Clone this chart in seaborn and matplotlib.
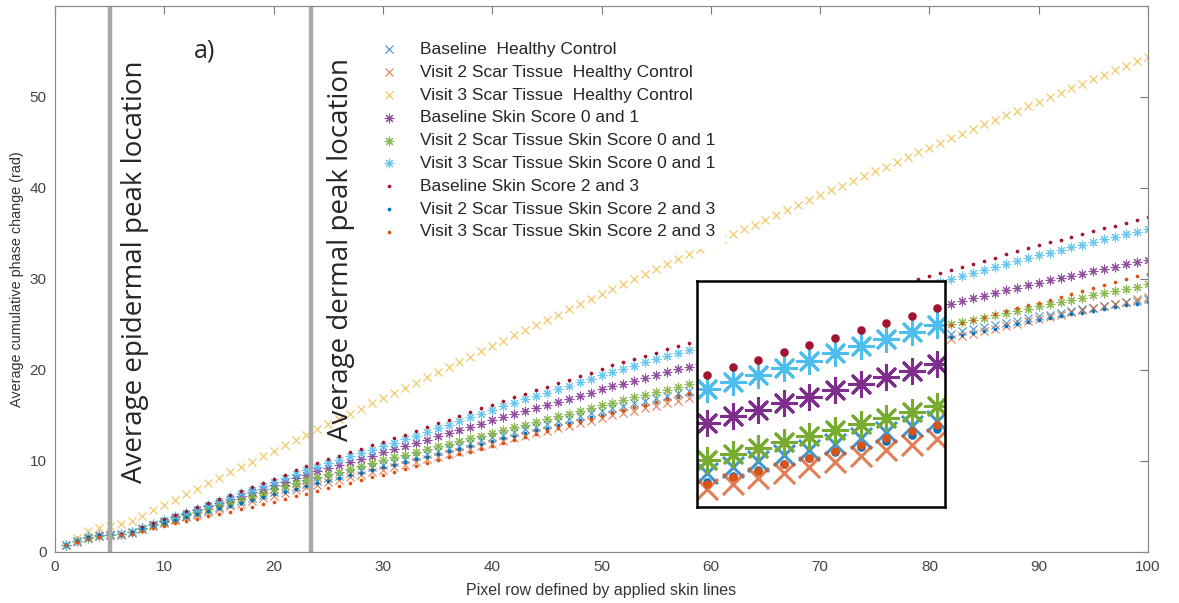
import matplotlib.pyplot as plt
import seaborn as sns

# pixel rows 1..100
pixel_row = list(range(1, 101))

baseline_hc = [
    0.80, 1.18, 1.57, 1.80, 1.90, 1.95, 2.15, 2.55, 2.95, 3.30,
    3.63, 3.97, 4.30, 4.63, 4.97, 5.30, 5.61, 5.93, 6.24, 6.56,
    6.87, 7.19, 7.50, 7.80, 8.10, 8.40, 8.70, 9.00, 9.30, 9.60,
    9.90, 10.20, 10.50, 10.80, 11.10, 11.40, 11.70, 12.00, 12.30, 12.60,
    12.90, 13.19, 13.48, 13.77, 14.06, 14.35, 14.64, 14.93, 15.22, 15.51,
    15.80, 16.08, 16.36, 16.63, 16.91, 17.19, 17.47, 17.74, 18.02, 18.30,
    18.57, 18.84, 19.11, 19.38, 19.65, 19.92, 20.19, 20.46, 20.73, 21.00,
    21.25, 21.50, 21.75, 22.00, 22.25, 22.50, 22.75, 23.00, 23.25, 23.50,
    23.75, 24.00, 24.24, 24.48, 24.71, 24.95, 25.19, 25.43, 25.66, 25.90,
    26.09, 26.28, 26.47, 26.66, 26.85, 27.04, 27.23, 27.42, 27.61, 27.80]

visit2_hc = [
    0.80, 1.15, 1.55, 1.78, 1.88, 1.92, 2.10, 2.48, 2.85, 3.20,
    3.50, 3.80, 4.10, 4.40, 4.70, 5.00, 5.30, 5.60, 5.90, 6.20,
    6.50, 6.80, 7.10, 7.38, 7.65, 7.93, 8.20, 8.48, 8.75, 9.03,
    9.30, 9.59, 9.88, 10.17, 10.46, 10.75, 11.04, 11.33, 11.62, 11.91,
    12.20, 12.48, 12.76, 13.04, 13.32, 13.60, 13.88, 14.16, 14.44, 14.72,
    15.00, 15.27, 15.53, 15.80, 16.07, 16.33, 16.60, 16.87, 17.13, 17.40,
    17.67, 17.94, 18.21, 18.48, 18.75, 19.02, 19.29, 19.56, 19.83, 20.10,
    20.38, 20.65, 20.93, 21.20, 21.48, 21.75, 22.03, 22.30, 22.58, 22.85,
    23.13, 23.40, 23.68, 23.95, 24.23, 24.50, 24.78, 25.05, 25.33, 25.60,
    25.84, 26.08, 26.32, 26.56, 26.80, 27.04, 27.28, 27.52, 27.76, 28.00]

visit3_hc = [
    0.80, 1.50, 2.30, 2.60, 2.85, 3.10, 3.40, 4.00, 4.60, 5.15,
    5.75, 6.35, 6.95, 7.55, 8.15, 8.75, 9.35, 9.94, 10.53, 11.13,
    11.72, 12.31, 12.90, 13.47, 14.04, 14.61, 15.18, 15.75, 16.33, 16.90,
    17.47, 18.04, 18.61, 19.18, 19.75, 20.33, 20.90, 21.48, 22.06, 22.63,
    23.21, 23.79, 24.36, 24.94, 25.52, 26.09, 26.67, 27.25, 27.82, 28.40,
    28.94, 29.48, 30.03, 30.57, 31.11, 31.65, 32.19, 32.73, 33.28, 33.82,
    34.36, 34.90, 35.44, 35.97, 36.51, 37.05, 37.58, 38.12, 38.65, 39.19,
    39.73, 40.26, 40.80, 41.32, 41.83, 42.35, 42.87, 43.38, 43.90, 44.42,
    44.93, 45.45, 45.97, 46.48, 47.00, 47.49, 47.99, 48.48, 48.97, 49.47,
    49.96, 50.45, 50.95, 51.44, 51.93, 52.43, 52.92, 53.41, 53.91, 54.40]

baseline_ss01 = [
    0.80, 1.20, 1.60, 1.82, 1.92, 1.98, 2.18, 2.60, 3.05, 3.40,
    3.80, 4.20, 4.60, 5.00, 5.40, 5.80, 6.19, 6.57, 6.96, 7.34,
    7.73, 8.11, 8.50, 8.85, 9.20, 9.55, 9.90, 10.25, 10.60, 10.95,
    11.30, 11.65, 12.00, 12.35, 12.70, 13.05, 13.40, 13.75, 14.10, 14.45,
    14.80, 15.14, 15.48, 15.82, 16.16, 16.50, 16.84, 17.18, 17.52, 17.86,
    18.20, 18.51, 18.82, 19.13, 19.44, 19.76, 20.07, 20.38, 20.69, 21.00,
    21.30, 21.60, 21.90, 22.20, 22.50, 22.80, 23.10, 23.40, 23.70, 24.00,
    24.28, 24.55, 24.83, 25.10, 25.38, 25.65, 25.93, 26.20, 26.48, 26.75,
    27.03, 27.30, 27.59, 27.88, 28.16, 28.45, 28.74, 29.03, 29.31, 29.60,
    29.85, 30.10, 30.35, 30.60, 30.85, 31.10, 31.35, 31.60, 31.85, 32.10]

visit2_ss01 = [
    0.80, 1.20, 1.58, 1.80, 1.90, 1.95, 2.15, 2.55, 2.95, 3.30,
    3.67, 4.03, 4.40, 4.77, 5.13, 5.50, 5.84, 6.19, 6.53, 6.87,
    7.21, 7.56, 7.90, 8.21, 8.53, 8.84, 9.15, 9.46, 9.78, 10.09,
    10.40, 10.70, 11.00, 11.30, 11.60, 11.90, 12.20, 12.50, 12.80, 13.10,
    13.40, 13.70, 14.00, 14.30, 14.60, 14.90, 15.20, 15.50, 15.80, 16.10,
    16.40, 16.69, 16.98, 17.27, 17.56, 17.84, 18.13, 18.42, 18.71, 19.00,
    19.28, 19.56, 19.84, 20.12, 20.40, 20.68, 20.96, 21.24, 21.52, 21.80,
    22.07, 22.33, 22.60, 22.87, 23.13, 23.40, 23.67, 23.93, 24.20, 24.47,
    24.73, 25.00, 25.25, 25.50, 25.75, 26.00, 26.25, 26.50, 26.75, 27.00,
    27.24, 27.48, 27.72, 27.96, 28.20, 28.44, 28.68, 28.92, 29.16, 29.40]

visit3_ss01 = [
    0.80, 1.20, 1.60, 1.85, 1.95, 2.00, 2.20, 2.65, 3.10, 3.50,
    3.92, 4.33, 4.75, 5.17, 5.58, 6.00, 6.43, 6.86, 7.29, 7.71,
    8.14, 8.57, 9.00, 9.38, 9.75, 10.13, 10.50, 10.88, 11.25, 11.63,
    12.00, 12.40, 12.80, 13.20, 13.60, 14.00, 14.40, 14.80, 15.20, 15.60,
    16.00, 16.38, 16.76, 17.14, 17.52, 17.90, 18.28, 18.66, 19.04, 19.42,
    19.80, 20.14, 20.49, 20.83, 21.18, 21.52, 21.87, 22.21, 22.56, 22.90,
    23.23, 23.56, 23.89, 24.22, 24.55, 24.88, 25.21, 25.54, 25.87, 26.20,
    26.52, 26.83, 27.15, 27.47, 27.78, 28.10, 28.42, 28.73, 29.05, 29.37,
    29.68, 30.00, 30.33, 30.65, 30.98, 31.30, 31.63, 31.95, 32.28, 32.60,
    32.89, 33.18, 33.47, 33.76, 34.05, 34.34, 34.63, 34.92, 35.21, 35.50]

baseline_ss23 = [
    0.80, 1.20, 1.60, 1.85, 1.95, 2.00, 2.25, 2.70, 3.15, 3.60,
    4.05, 4.50, 4.95, 5.40, 5.85, 6.30, 6.74, 7.19, 7.63, 8.07,
    8.51, 8.96, 9.40, 9.79, 10.18, 10.56, 10.95, 11.34, 11.73, 12.11,
    12.50, 12.91, 13.32, 13.73, 14.14, 14.55, 14.96, 15.37, 15.78, 16.19,
    16.60, 16.99, 17.38, 17.77, 18.16, 18.55, 18.94, 19.33, 19.72, 20.11,
    20.50, 20.86, 21.21, 21.57, 21.92, 22.28, 22.63, 22.99, 23.34, 23.70,
    24.04, 24.38, 24.72, 25.06, 25.40, 25.74, 26.08, 26.42, 26.76, 27.10,
    27.43, 27.75, 28.08, 28.40, 28.73, 29.05, 29.38, 29.70, 30.03, 30.35,
    30.68, 31.00, 31.34, 31.68, 32.01, 32.35, 32.69, 33.03, 33.36, 33.70,
    34.01, 34.32, 34.63, 34.94, 35.25, 35.56, 35.87, 36.18, 36.49, 36.80]

visit2_ss23 = [
    0.80, 1.18, 1.56, 1.78, 1.88, 1.92, 2.12, 2.50, 2.88, 3.20,
    3.52, 3.83, 4.15, 4.47, 4.78, 5.10, 5.41, 5.71, 6.02, 6.33,
    6.64, 6.94, 7.25, 7.54, 7.84, 8.13, 8.43, 8.72, 9.01, 9.31,
    9.60, 9.89, 10.18, 10.47, 10.76, 11.05, 11.34, 11.63, 11.92, 12.21,
    12.50, 12.79, 13.07, 13.36, 13.64, 13.93, 14.21, 14.50, 14.78, 15.07,
    15.35, 15.63, 15.92, 16.20, 16.48, 16.77, 17.05, 17.33, 17.62, 17.90,
    18.17, 18.44, 18.71, 18.98, 19.25, 19.52, 19.79, 20.06, 20.33, 20.60,
    20.85, 21.10, 21.35, 21.60, 21.85, 22.10, 22.35, 22.60, 22.85, 23.10,
    23.35, 23.60, 23.84, 24.08, 24.31, 24.55, 24.79, 25.03, 25.26, 25.50,
    25.70, 25.90, 26.10, 26.30, 26.50, 26.70, 26.90, 27.10, 27.30, 27.50]

visit3_ss23 = [
    0.78, 1.10, 1.48, 1.70, 1.80, 1.85, 2.00, 2.30, 2.60, 2.90,
    3.15, 3.40, 3.65, 3.90, 4.15, 4.40, 4.69, 4.97, 5.26, 5.54,
    5.83, 6.11, 6.40, 6.70, 7.00, 7.30, 7.60, 7.90, 8.20, 8.50,
    8.80, 9.12, 9.44, 9.76, 10.08, 10.40, 10.72, 11.04, 11.36, 11.68,
    12.00, 12.33, 12.65, 12.98, 13.30, 13.63, 13.95, 14.28, 14.60, 14.93,
    15.25, 15.57, 15.88, 16.20, 16.52, 16.83, 17.15, 17.47, 17.78, 18.10,
    18.41, 18.72, 19.03, 19.34, 19.65, 19.96, 20.27, 20.58, 20.89, 21.20,
    21.51, 21.82, 22.13, 22.43, 22.74, 23.05, 23.36, 23.67, 23.98, 24.28,
    24.59, 24.90, 25.21, 25.53, 25.84, 26.15, 26.46, 26.78, 27.09, 27.40,
    27.72, 28.04, 28.36, 28.68, 29.00, 29.32, 29.64, 29.96, 30.28, 30.60]

series_labels = [
    "Baseline  Healthy Control",
    "Visit 2 Scar Tissue  Healthy Control",
    "Visit 3 Scar Tissue  Healthy Control",
    "Baseline Skin Score 0 and 1",
    "Visit 2 Scar Tissue Skin Score 0 and 1",
    "Visit 3 Scar Tissue Skin Score 0 and 1",
    "Baseline Skin Score 2 and 3",
    "Visit 2 Scar Tissue Skin Score 2 and 3",
    "Visit 3 Scar Tissue Skin Score 2 and 3",
]
series_values = [baseline_hc, visit2_hc, visit3_hc,
                 baseline_ss01, visit2_ss01, visit3_ss01,
                 baseline_ss23, visit2_ss23, visit3_ss23]

# peak locations (pixel row)
epidermal_peak = 5.0
dermal_peak = 23.4

# MATLAB default colour order
matlab_colors = ['#0072BD', '#D95319', '#EDB120', '#7E2F8E', '#77AC30',
                 '#4DBEEE', '#A2142F', '#0072BD', '#D95319']
ASTERISK = (8, 2, 0)
marker_kinds = ['x', 'x', 'x', ASTERISK, ASTERISK, ASTERISK, 'dot', 'dot', 'dot']

sns.set_theme(style='white')
plt.rcParams['font.family'] = ['Liberation Sans', 'DejaVu Sans']

fig = plt.figure(figsize=(11.79, 6.03), dpi=100)
ax = fig.add_axes([0.0467, 0.0846, 0.927, 0.9055])


def draw_series(axis, big=False):
    for vals, lab, col, mk in zip(series_values, series_labels, matlab_colors, marker_kinds):
        if mk == 'dot':
            kw = dict(marker='o', s=38 if big else 7, linewidth=0, edgecolor=col)
        elif mk == 'x':
            kw = dict(marker='x', s=230 if big else 34, linewidth=2.2 if big else 0.8,
                      alpha=0.75)
        else:
            kw = dict(marker=mk, s=300 if big else 40, linewidth=2.2 if big else 0.8,
                      alpha=1 if big else 0.85)
        sns.scatterplot(x=pixel_row, y=vals, color=col, label=lab, ax=axis,
                        legend=False, **kw)


draw_series(ax)

ax.axvline(epidermal_peak, color='#a8a8a8', lw=3.2, zorder=1)
ax.axvline(dermal_peak, color='#a8a8a8', lw=3.2, zorder=1)
ax.text(7.3, 7.6, "Average epidermal peak location", rotation=90, ha='center',
        va='bottom', fontsize=20, family=['Open Sans', 'DejaVu Sans'])
ax.text(26.2, 12.2, "Average dermal peak location", rotation=90, ha='center',
        va='bottom', fontsize=20, family=['Open Sans', 'DejaVu Sans'])
ax.text(13.7, 55.0, "a)", ha='center', va='center', fontsize=18,
        family=['Open Sans', 'DejaVu Sans'])

ax.set_xlim(0, 100)
ax.set_ylim(0, 60)
ax.set_xticks(range(0, 101, 10))
ax.set_yticks(range(0, 51, 10))
ax.tick_params(direction='in', length=6, width=0.8, color='#777777',
               labelcolor='#444444', labelsize=11, top=True, right=True,
               labeltop=False, labelright=False, pad=6)
for sp in ax.spines.values():
    sp.set_color('#8a8a8a')
    sp.set_linewidth(0.9)
ax.set_xlabel("Pixel row defined by applied skin lines", fontsize=11.5, color='#333333',
              labelpad=6)
ax.set_ylabel("Average cumulative phase change (rad)", fontsize=10.4, color='#333333',
              labelpad=4)

handles, labels = ax.get_legend_handles_labels()
leg = ax.legend(handles, labels, loc='upper left', bbox_to_anchor=(0.280, 0.966),
                frameon=True, framealpha=1, facecolor='white', edgecolor='white',
                fontsize=12.5, labelspacing=0.44, handlelength=1.2,
                handletextpad=1.2, borderpad=0.5)
leg.set_zorder(5)

# magnified view pasted on top of the plot
inset = fig.add_axes([0.5912, 0.1592, 0.2103, 0.3748])
draw_series(inset, big=True)
inset.set_xlim(50.6, 60.3)
inset.set_ylim(14.15, 25.0)
inset.set_xticks([])
inset.set_yticks([])
inset.set_facecolor('white')
for sp in inset.spines.values():
    sp.set_color('black')
    sp.set_linewidth(1.8)

fig.savefig("out.png", dpi=100)
